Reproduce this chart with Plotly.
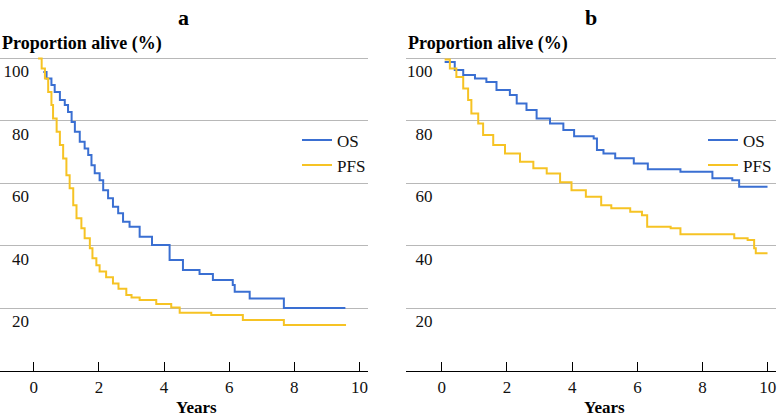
import plotly.graph_objects as go

# ---------------- data ----------------
# Panel a
a_os_t = [0.29, 0.39, 0.54, 0.64, 0.80, 0.95, 1.05, 1.16, 1.26, 1.41, 1.56, 1.67, 1.77, 1.87, 2.02, 2.13,
          2.28, 2.43, 2.59, 2.74, 2.94, 3.25, 3.63, 4.17, 4.58, 5.09, 5.5, 6.11, 6.17, 6.63, 7.68, 9.57]
a_os_v = [95.6, 93.5, 91.4, 89.2, 86.6, 85.0, 82.8, 79.6, 76.5, 73.3, 71.1, 69.0, 65.8, 63.2, 61.0, 57.8,
          55.2, 52.5, 50.4, 47.7, 46.1, 42.9, 40.3, 35.5, 32.3, 31.0, 29.1, 27.5, 25.3, 23.2, 20.1, 20.1]
a_pfs_t = [0.13, 0.24, 0.34, 0.44, 0.54, 0.59, 0.70, 0.80, 0.90, 1.00, 1.10, 1.21, 1.31, 1.46, 1.56, 1.72,
           1.80, 1.92, 2.02, 2.22, 2.43, 2.60, 2.84, 3.0, 3.25, 3.76, 4.22, 4.48, 5.45, 6.42, 7.68, 9.59]
a_pfs_v = [99.9, 96.7, 93.5, 89.2, 85.0, 80.7, 76.5, 72.2, 67.9, 62.6, 58.4, 53.0, 48.8, 45.6, 42.4, 39.2,
           36.0, 33.8, 31.8, 30.0, 28.0, 26.3, 24.3, 23.5, 22.7, 21.4, 20.3, 18.6, 17.9, 16.3, 14.7, 14.7]

# Panel b
b_os_t = [0.09, 0.4, 0.66, 1.02, 1.37, 1.68, 2.09, 2.3, 2.6, 2.91, 3.32, 3.73, 4.06, 4.66, 4.76, 4.96,
          5.32, 5.89, 6.32, 7.32, 8.3, 8.91, 9.12, 9.99]
b_os_v = [98.8, 96.2, 94.6, 93.5, 92.4, 89.8, 88.2, 85.5, 83.4, 80.7, 79.1, 77.0, 75.0, 74.3, 70.6, 69.5,
          68.0, 66.3, 64.5, 63.7, 61.6, 61.0, 58.9, 58.9]
b_pfs_t = [0.09, 0.25, 0.45, 0.66, 0.81, 0.91, 1.12, 1.27, 1.58, 1.94, 2.4, 2.81, 3.22, 3.63, 3.98, 4.42,
           4.89, 5.2, 5.78, 6.14, 6.3, 7.02, 7.32, 8.97, 9.38, 9.58, 9.63, 9.99]
b_pfs_v = [99.6, 96.7, 94.0, 90.3, 86.6, 82.3, 79.1, 75.4, 72.2, 69.5, 66.9, 64.8, 63.1, 60.3, 57.8, 55.7,
           53.0, 52.0, 50.9, 49.8, 46.1, 45.6, 43.7, 42.4, 41.9, 39.2, 37.6, 37.6]

series_names = ["OS", "PFS"]
panel_titles = ["a", "b"]
y_title = "Proportion alive (%)"
x_title = "Years"
x_ticks = [0, 2, 4, 6, 8, 10]
y_ticks = [20, 40, 60, 80, 100]

# ---------------- styling ----------------
W, H = 777, 418
BLUE = "#3a6fd2"
GOLD = "#f6c324"
GRID = "#b8b8b8"
SERIF = "Liberation Serif"
YMAX = 101.0
ML, MR, MT, MB = 0, 0, 55, 47

dom_a = [0, 368 / W]
dom_b = [407 / W, 1]

fig = go.Figure()

panels = [
    dict(xa="x", ya="y", leg="legend", os=(a_os_t, a_os_v), pfs=(a_pfs_t, a_pfs_v)),
    dict(xa="x2", ya="y2", leg="legend2", os=(b_os_t, b_os_v), pfs=(b_pfs_t, b_pfs_v)),
]
for p in panels:
    for name, (t, v), col in [(series_names[0], p["os"], BLUE), (series_names[1], p["pfs"], GOLD)]:
        fig.add_trace(go.Scatter(
            x=t, y=v, mode="lines", name=name, line=dict(color=col, width=2, shape="hv"),
            xaxis=p["xa"], yaxis=p["ya"], legend=p["leg"], cliponaxis=False, hoverinfo="skip"))

def xaxis_cfg(domain, rng, anchor):
    return dict(domain=domain, range=rng, anchor=anchor, showgrid=False, zeroline=False,
                showline=True, linecolor="#000", linewidth=1.2,
                ticks="inside", ticklen=9, tickwidth=1.2, tickcolor="#000",
                tickvals=x_ticks, tickfont=dict(family=SERIF, size=17, color="#111"))

def yaxis_cfg(pos):
    return dict(domain=[0, 1], range=[0, YMAX], anchor="free", position=pos,
                showgrid=True, gridcolor=GRID, gridwidth=1.2, zeroline=False, showline=False,
                ticks="", tickvals=y_ticks, ticklabelshift=13,
                tickfont=dict(family=SERIF, size=17, color="#111"))

legend_common = dict(y=0.690, xanchor="left", yanchor="middle", bgcolor="rgba(0,0,0,0)",
                     font=dict(family=SERIF, size=17, color="#111"), tracegroupgap=0)

fig.update_layout(
    width=W, height=H, margin=dict(l=ML, r=MR, t=MT, b=MB),
    paper_bgcolor="white", plot_bgcolor="white",
    xaxis=xaxis_cfg(dom_a, [-1.04, 10.25], "y"),
    yaxis=yaxis_cfg(29 / W),
    xaxis2=xaxis_cfg(dom_b, [-1.08, 10.25], "y2"),
    yaxis2=yaxis_cfg(433 / W),
    legend=dict(x=297 / W, **legend_common),
    legend2=dict(x=704 / W, **legend_common),
    showlegend=True,
)

plot_h = H - MT - MB
def py(pix):
    return (H - MB - pix) / plot_h

for i, (xa, left_px, dom) in enumerate([("x", 0, dom_a), ("x2", 407, dom_b)]):
    fig.add_annotation(text=f"<b>{panel_titles[i]}</b>", xref="paper", yref="paper",
                       x=(dom[0] + dom[1]) / 2, y=py(17), xanchor="center", yanchor="middle",
                       showarrow=False, font=dict(family=SERIF, size=22, color="#000"))
    fig.add_annotation(text=f"<b>{y_title}</b>", xref="paper", yref="paper",
                       x=left_px / W, y=py(43), xanchor="left", yanchor="middle",
                       showarrow=False, font=dict(family=SERIF, size=18, color="#000"))
    fig.add_annotation(text=f"<b>{x_title}</b>", xref=xa, yref="paper",
                       x=5, y=py(407), xanchor="center", yanchor="middle",
                       showarrow=False, font=dict(family=SERIF, size=17, color="#000"))

fig.write_html("out.html", config={"displayModeBar": False},
               post_script="document.body.style.margin='0';")
